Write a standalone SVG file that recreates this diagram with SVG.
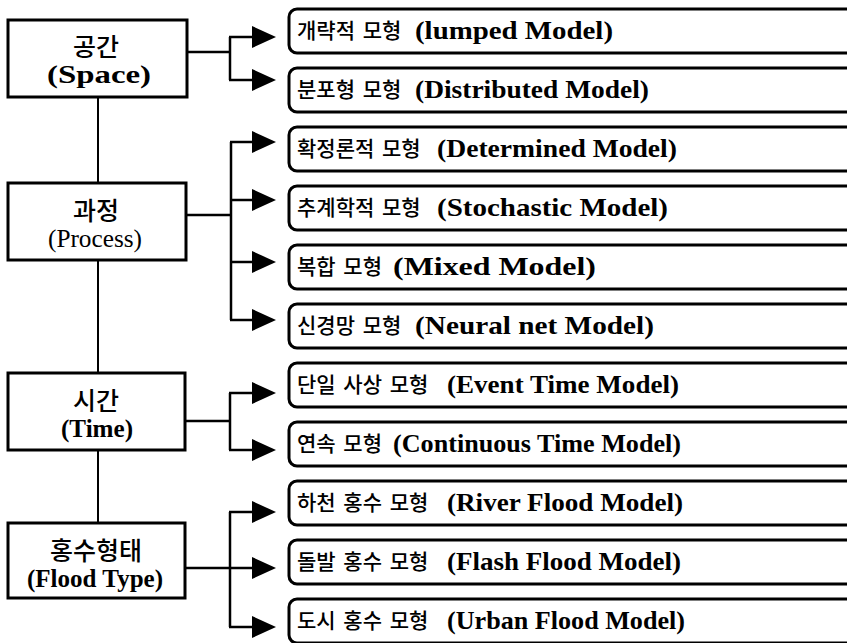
<svg xmlns="http://www.w3.org/2000/svg" width="847" height="643" viewBox="0 0 847 643">
<style>
.lbox{fill:#fff;stroke:#000;stroke-width:3}
.rbox{fill:#fff;stroke:#000;stroke-width:3}
.ko{font-family:"Noto Sans CJK KR","Noto Sans",sans-serif;font-weight:500;fill:#000}
.en{font-family:"Liberation Serif","Times New Roman",serif;font-weight:bold;fill:#000}
.lk{font-size:25px;text-anchor:middle}
.le{font-size:25px}
.rk{font-size:21px;word-spacing:3px}
.re{font-size:25px}
.ln{fill:none;stroke:#000;stroke-width:2.5}
.sp{fill:none;stroke:#000;stroke-width:2}
</style>
<defs>
<marker id="ah" viewBox="0 0 24 22" refX="0" refY="11" markerWidth="24" markerHeight="22" markerUnits="userSpaceOnUse" orient="auto">
<path d="M0,0 L24,11 L0,22 z" fill="#000"/>
</marker>
</defs>
<rect width="847" height="643" fill="#fff"/>
<g id="connectors">
<path class="sp" d="M98,97 V523"/>
<path class="ln" d="M187,52 H230"/>
<path class="ln" d="M230,37 V80"/>
<path class="ln" d="M229,37 H252" marker-end="url(#ah)"/>
<path class="ln" d="M229,80 H252" marker-end="url(#ah)"/>
<path class="ln" d="M186,215 H231"/>
<path class="ln" d="M231,142 V320"/>
<path class="ln" d="M230,142 H252" marker-end="url(#ah)"/>
<path class="ln" d="M230,200 H252" marker-end="url(#ah)"/>
<path class="ln" d="M230,262 H252" marker-end="url(#ah)"/>
<path class="ln" d="M230,320 H252" marker-end="url(#ah)"/>
<path class="ln" d="M185,421 H230"/>
<path class="ln" d="M230,393 V450"/>
<path class="ln" d="M229,393 H252" marker-end="url(#ah)"/>
<path class="ln" d="M229,450 H252" marker-end="url(#ah)"/>
<path class="ln" d="M185,568 H252" marker-end="url(#ah)"/>
<path class="ln" d="M230,512 V627"/>
<path class="ln" d="M229,512 H252" marker-end="url(#ah)"/>
<path class="ln" d="M229,627 H252" marker-end="url(#ah)"/>
</g>
<g id="space">
<rect class="lbox" x="8" y="20" width="179" height="77"/>
<text class="ko lk" x="96" y="56">공간</text>
<text class="en le" x="47" y="83" textLength="104" lengthAdjust="spacingAndGlyphs">(Space)</text>
</g>
<g id="process">
<rect class="lbox" x="8" y="183" width="178" height="77"/>
<text class="ko lk" x="96" y="220">과정</text>
<text class="en le" x="48" y="247" style="font-weight:normal" textLength="94" lengthAdjust="spacingAndGlyphs">(Process)</text>
</g>
<g id="time">
<rect class="lbox" x="8" y="373" width="177" height="77"/>
<text class="ko lk" x="96" y="410">시간</text>
<text class="en le" x="61" y="437" textLength="72" lengthAdjust="spacingAndGlyphs">(Time)</text>
</g>
<g id="floodtype">
<rect class="lbox" x="8" y="523" width="177" height="75"/>
<text class="ko lk" x="96" y="560">홍수형태</text>
<text class="en le" x="27" y="587" textLength="136" lengthAdjust="spacingAndGlyphs">(Flood Type)</text>
</g>
<g id="m1">
<rect class="rbox" x="289" y="9" width="580" height="44" rx="8"/>
<text class="ko rk" x="297" y="38">개략적 모형</text>
<text class="en re" x="415" y="39" textLength="198" lengthAdjust="spacingAndGlyphs">(lumped Model)</text>
</g>
<g id="m2">
<rect class="rbox" x="289" y="68" width="580" height="44" rx="8"/>
<text class="ko rk" x="297" y="97">분포형 모형</text>
<text class="en re" x="415" y="98" textLength="234" lengthAdjust="spacingAndGlyphs">(Distributed Model)</text>
</g>
<g id="m3">
<rect class="rbox" x="289" y="127" width="580" height="44" rx="8"/>
<text class="ko rk" x="297" y="156">확정론적 모형</text>
<text class="en re" x="437" y="157" textLength="240" lengthAdjust="spacingAndGlyphs">(Determined Model)</text>
</g>
<g id="m4">
<rect class="rbox" x="289" y="186" width="580" height="44" rx="8"/>
<text class="ko rk" x="297" y="215">추계학적 모형</text>
<text class="en re" x="437" y="216" textLength="231" lengthAdjust="spacingAndGlyphs">(Stochastic Model)</text>
</g>
<g id="m5">
<rect class="rbox" x="289" y="245" width="580" height="44" rx="8"/>
<text class="ko rk" x="297" y="274">복합 모형</text>
<text class="en re" x="393" y="275" textLength="203" lengthAdjust="spacingAndGlyphs">(Mixed Model)</text>
</g>
<g id="m6">
<rect class="rbox" x="289" y="304" width="580" height="44" rx="8"/>
<text class="ko rk" x="297" y="333">신경망 모형</text>
<text class="en re" x="415" y="334" textLength="239" lengthAdjust="spacingAndGlyphs">(Neural net Model)</text>
</g>
<g id="m7">
<rect class="rbox" x="289" y="363" width="580" height="44" rx="8"/>
<text class="ko rk" x="297" y="392">단일 사상 모형</text>
<text class="en re" x="447" y="393" textLength="232" lengthAdjust="spacingAndGlyphs">(Event Time Model)</text>
</g>
<g id="m8">
<rect class="rbox" x="289" y="422" width="580" height="44" rx="8"/>
<text class="ko rk" x="297" y="451">연속 모형</text>
<text class="en re" x="393" y="452" textLength="288" lengthAdjust="spacingAndGlyphs">(Continuous Time Model)</text>
</g>
<g id="m9">
<rect class="rbox" x="289" y="481" width="580" height="44" rx="8"/>
<text class="ko rk" x="297" y="510">하천 홍수 모형</text>
<text class="en re" x="447" y="511" textLength="236" lengthAdjust="spacingAndGlyphs">(River Flood Model)</text>
</g>
<g id="m10">
<rect class="rbox" x="289" y="540" width="580" height="44" rx="8"/>
<text class="ko rk" x="297" y="569">돌발 홍수 모형</text>
<text class="en re" x="447" y="570" textLength="234" lengthAdjust="spacingAndGlyphs">(Flash Flood Model)</text>
</g>
<g id="m11">
<rect class="rbox" x="289" y="599" width="580" height="44" rx="8"/>
<text class="ko rk" x="297" y="628">도시 홍수 모형</text>
<text class="en re" x="447" y="629" textLength="238" lengthAdjust="spacingAndGlyphs">(Urban Flood Model)</text>
</g>
</svg>
